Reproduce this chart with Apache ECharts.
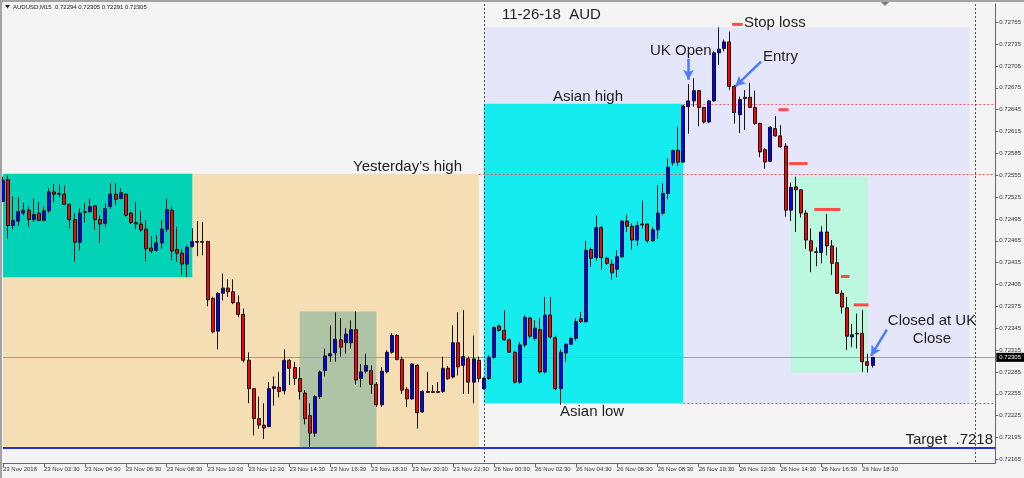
<!DOCTYPE html>
<html><head><meta charset="utf-8">
<script src="https://cdn.jsdelivr.net/npm/echarts@6/dist/echarts.min.js"></script>
<style>html,body{margin:0;padding:0;background:#f4f4f4;}#c{width:1024px;height:478px;}</style>
</head><body><div id="c"></div>
<script>
// ---- DATA ----
// Friday 23 Nov, M15 bars from 00:30 to 23:45  [open, close, low, high]
const fridayCandles = [
[0.72519,0.72548,0.72518,0.72553],[0.72549,0.72486,0.72468,0.72555],[0.72486,0.72493,0.72481,0.72526],[0.72492,0.72505,0.72486,0.72525],
[0.72503,0.72507,0.72500,0.72517],[0.72507,0.72494,0.72484,0.72512],[0.72494,0.72501,0.72491,0.72523],[0.72503,0.72493,0.72492,0.72518],
[0.72493,0.72506,0.72492,0.72512],[0.72506,0.72532,0.72503,0.72537],[0.72532,0.72529,0.72518,0.72543],[0.72530,0.72529,0.72525,0.72542],
[0.72529,0.72515,0.72514,0.72541],[0.72515,0.72494,0.72482,0.72516],[0.72494,0.72463,0.72436,0.72503],[0.72463,0.72503,0.72452,0.72509],
[0.72505,0.72504,0.72490,0.72517],[0.72505,0.72512,0.72503,0.72523],[0.72513,0.72494,0.72480,0.72514],[0.72494,0.72488,0.72462,0.72500],
[0.72489,0.72509,0.72484,0.72516],[0.72512,0.72529,0.72509,0.72544],[0.72529,0.72522,0.72514,0.72544],[0.72523,0.72531,0.72522,0.72537],
[0.72529,0.72500,0.72498,0.72530],[0.72503,0.72490,0.72488,0.72505],[0.72490,0.72488,0.72481,0.72518],[0.72488,0.72480,0.72477,0.72506],
[0.72481,0.72454,0.72437,0.72493],[0.72455,0.72451,0.72448,0.72471],[0.72452,0.72462,0.72450,0.72473],[0.72462,0.72481,0.72454,0.72493],
[0.72481,0.72508,0.72477,0.72523],[0.72507,0.72451,0.72438,0.72512],[0.72453,0.72448,0.72436,0.72484],[0.72448,0.72433,0.72418,0.72454],
[0.72433,0.72456,0.72415,0.72459],[0.72457,0.72464,0.72456,0.72482],[0.72464,0.72463,0.72444,0.72492],[0.72464,0.72463,0.72445,0.72491],
[0.72464,0.72384,0.72375,0.72465],[0.72386,0.72340,0.72338,0.72388],[0.72341,0.72393,0.72316,0.72394],[0.72393,0.72400,0.72383,0.72420],
[0.72400,0.72395,0.72388,0.72412],[0.72395,0.72380,0.72378,0.72412],[0.72380,0.72364,0.72360,0.72390],[0.72364,0.72301,0.72298,0.72372],
[0.72301,0.72262,0.72242,0.72312],[0.72262,0.72221,0.72198,0.72263],[0.72221,0.72212,0.72207,0.72251],[0.72212,0.72208,0.72193,0.72242],
[0.72210,0.72262,0.72209,0.72271],[0.72262,0.72265,0.72239,0.72279],[0.72264,0.72258,0.72250,0.72285],[0.72259,0.72301,0.72254,0.72316],
[0.72301,0.72290,0.72267,0.72302],[0.72291,0.72276,0.72267,0.72299],[0.72276,0.72258,0.72247,0.72292],[0.72256,0.72221,0.72213,0.72260],
[0.72225,0.72201,0.72182,0.72242],[0.72201,0.72251,0.72196,0.72253],[0.72251,0.72285,0.72248,0.72287],[0.72287,0.72307,0.72279,0.72317],
[0.72307,0.72310,0.72299,0.72349],[0.72311,0.72330,0.72299,0.72367],[0.72329,0.72319,0.72306,0.72359],[0.72325,0.72337,0.72310,0.72345],
[0.72325,0.72343,0.72317,0.72356],[0.72343,0.72274,0.72267,0.72368],[0.72276,0.72285,0.72264,0.72296],[0.72286,0.72294,0.72283,0.72310],
[0.72287,0.72268,0.72255,0.72294],[0.72268,0.72240,0.72237,0.72271],[0.72240,0.72286,0.72237,0.72292],[0.72285,0.72312,0.72283,0.72315],
[0.72312,0.72335,0.72310,0.72338],[0.72335,0.72302,0.72301,0.72337],[0.72302,0.72260,0.72255,0.72306],[0.72261,0.72248,0.72237,0.72264],
[0.72248,0.72296,0.72247,0.72297],[0.72294,0.72229,0.72207,0.72296],[0.72230,0.72258,0.72229,0.72260],[0.72258,0.72257,0.72256,0.72285],
[0.72258,0.72257,0.72256,0.72267],[0.72258,0.72257,0.72256,0.72271],[0.72258,0.72290,0.72256,0.72306],[0.72290,0.72276,0.72274,0.72293],
[0.72278,0.72325,0.72276,0.72349],[0.72325,0.72292,0.72280,0.72367],[0.72294,0.72306,0.72255,0.72370],[0.72303,0.72271,0.72255,0.72306],
[0.72271,0.72303,0.72242,0.72335],[0.72301,0.72276,0.72271,0.72306]
];
// Monday 26 Nov, M15 bars from 00:00 to 19:00  [open, close, low, high]
const mondayCandles = [
[0.72262,0.72276,0.72261,0.72278],[0.72276,0.72305,0.72274,0.72308],[0.72305,0.72346,0.72303,0.72348],[0.72348,0.72342,0.72340,0.72350],
[0.72342,0.72329,0.72328,0.72370],[0.72329,0.72312,0.72311,0.72331],[0.72312,0.72271,0.72269,0.72314],[0.72271,0.72322,0.72269,0.72326],
[0.72322,0.72360,0.72319,0.72363],[0.72359,0.72334,0.72331,0.72361],[0.72331,0.72345,0.72328,0.72356],[0.72343,0.72285,0.72283,0.72359],
[0.72285,0.72363,0.72283,0.72388],[0.72363,0.72333,0.72331,0.72388],[0.72332,0.72262,0.72260,0.72335],[0.72262,0.72312,0.72240,0.72316],
[0.72311,0.72323,0.72299,0.72324],[0.72323,0.72331,0.72322,0.72333],[0.72331,0.72354,0.72328,0.72359],[0.72358,0.72354,0.72352,0.72367],
[0.72354,0.72452,0.72352,0.72465],[0.72453,0.72441,0.72429,0.72456],[0.72442,0.72483,0.72438,0.72500],[0.72483,0.72442,0.72425,0.72486],
[0.72441,0.72434,0.72432,0.72443],[0.72433,0.72421,0.72412,0.72439],[0.72426,0.72443,0.72415,0.72452],[0.72443,0.72492,0.72442,0.72493],
[0.72492,0.72485,0.72477,0.72501],[0.72485,0.72466,0.72453,0.72489],[0.72466,0.72486,0.72458,0.72491],[0.72488,0.72487,0.72482,0.72520],
[0.72488,0.72465,0.72462,0.72489],[0.72465,0.72480,0.72464,0.72484],[0.72480,0.72503,0.72468,0.72541],[0.72503,0.72530,0.72500,0.72544],
[0.72530,0.72566,0.72522,0.72578],[0.72572,0.72589,0.72568,0.72590],[0.72589,0.72573,0.72568,0.72622],[0.72573,0.72650,0.72572,0.72651],
[0.72649,0.72657,0.72612,0.72680],[0.72657,0.72671,0.72649,0.72688],[0.72671,0.72648,0.72622,0.72672],[0.72648,0.72628,0.72626,0.72649],
[0.72628,0.72657,0.72627,0.72658],[0.72657,0.72723,0.72656,0.72725],[0.72723,0.72728,0.72706,0.72758],[0.72729,0.72738,0.72725,0.72741],
[0.72738,0.72677,0.72672,0.72752],[0.72677,0.72641,0.72626,0.72679],[0.72638,0.72659,0.72613,0.72663],[0.72660,0.72662,0.72617,0.72672],
[0.72662,0.72648,0.72647,0.72682],[0.72648,0.72626,0.72624,0.72671],[0.72626,0.72587,0.72580,0.72627],[0.72590,0.72573,0.72564,0.72592],
[0.72574,0.72621,0.72573,0.72622],[0.72619,0.72609,0.72608,0.72636],[0.72609,0.72594,0.72593,0.72624],[0.72595,0.72507,0.72498,0.72599],
[0.72507,0.72538,0.72492,0.72545],[0.72539,0.72535,0.72477,0.72553],[0.72535,0.72503,0.72497,0.72536],[0.72503,0.72466,0.72454,0.72507],
[0.72465,0.72451,0.72422,0.72482],[0.72450,0.72449,0.72430,0.72456],[0.72449,0.72477,0.72434,0.72485],[0.72477,0.72458,0.72445,0.72502],
[0.72458,0.72434,0.72418,0.72466],[0.72435,0.72393,0.72392,0.72456],[0.72393,0.72374,0.72365,0.72397],[0.72373,0.72334,0.72315,0.72388],
[0.72333,0.72336,0.72319,0.72351],[0.72338,0.72337,0.72317,0.72365],[0.72338,0.72299,0.72285,0.72370],[0.72299,0.72294,0.72284,0.72310],
[0.72294,0.72305,0.72291,0.72305]
];
const emptyBarsAhead = 24;          // chart shift: empty bar slots after the last candle
const xTickIndex = [0,8,16,24,32,40,48,56,64,72,80,88,96,104,112,120,128,136,144,152,160,168];
const xTickLabels = ["23 Nov 2018","23 Nov 02:30","23 Nov 04:30","23 Nov 06:30","23 Nov 08:30","23 Nov 10:30",
  "23 Nov 12:30","23 Nov 14:30","23 Nov 16:30","23 Nov 18:30","23 Nov 20:30","23 Nov 22:30",
  "26 Nov 00:30","26 Nov 02:30","26 Nov 04:30","26 Nov 06:30","26 Nov 08:30","26 Nov 10:30",
  "26 Nov 12:30","26 Nov 14:30","26 Nov 16:30","26 Nov 18:30"];
const yTicks = [0.72165,0.72195,0.72225,0.72255,0.72285,0.72315,0.72345,0.72375,0.72405,0.72435,0.72465,
  0.72495,0.72525,0.72555,0.72585,0.72615,0.72645,0.72675,0.72705,0.72735,0.72765];
const yMin = 0.72160, yMax = 0.72790;
// zones: [fromBar, toBar, topPrice, bottomPrice]
const zoneBounds = [
  [0, 93, 0.72557, 0.72181],
  [0, 37, 0.72557, 0.72415],
  [58, 73, 0.72368, 0.72181],
  [94, 189, 0.72758, 0.72242],
  [94, 133, 0.72653, 0.72242],
  [154, 169, 0.72553, 0.72284]
];
const bidPrice = 0.72305;
const targetPrice = 0.72181;
const yesterdayHigh = 0.72556;
const asianHigh = 0.72653;
const asianLow = 0.72242;
const daySeparators = [94, 190];
// stop levels: [fromBar, toBar, price]
const stopLevels = [
  [142.55, 144.62, 0.72762], [151.6, 153.6, 0.72645], [153.7, 157.3, 0.72571],
  [158.6, 163.7, 0.72508], [163.8, 165.5, 0.72416], [166.3, 169.2, 0.72377]
];
// arrows: [[fromBar, fromPrice], [toBar, toPrice]]
const arrowPoints = [
  [[134.0, 0.72715], [134.0, 0.72686]],
  [[148.2, 0.72711], [143.2, 0.72677]],
  [[172.8, 0.72343], [169.7, 0.72307]]
];

// ---- BUILD ----
const candles = fridayCandles.concat(mondayCandles);
const nSlots = candles.length + emptyBarsAhead;
const categories = [];
for (let j = 0; j < nSlots; j++) {
  let day, mins;
  if (j < fridayCandles.length) { day = 23; mins = 30 + 15 * j; }
  else { const m = 15 * (j - fridayCandles.length); day = 26 + Math.floor(m / 1440); mins = m % 1440; }
  categories.push(day + ' Nov ' + String(Math.floor(mins / 60)).padStart(2, '0') + ':' + String(mins % 60).padStart(2, '0'));
}
const zoneColors = ['#f5deb3', '#02d2b6', '#afc4a5', '#e6e6fa', '#14ecf0', '#bcf8e0'];
const lastSlot = nSlots - 1;
const FONT = '"Liberation Sans", Arial, sans-serif';
const redDot = { color: '#ff5a5a', width: 1, type: [2, 2] };

const levelLines = [
  [{ coord: [0, bidPrice], lineStyle: { color: '#a0a0a0', width: 1, type: 'solid' },
     label: { show: true, position: 'end', formatter: () => bidPrice.toFixed(5), backgroundColor: '#000', color: '#fff',
              fontSize: 6, fontFamily: FONT, padding: [2, 3, 1, 3], distance: 1 } },
   { coord: [lastSlot, bidPrice] }],
  [{ coord: [0, targetPrice], lineStyle: { color: '#2233dd', width: 2, type: 'solid' } }, { coord: [lastSlot, targetPrice] }],
  [{ coord: [93, yesterdayHigh], lineStyle: redDot }, { coord: [lastSlot, yesterdayHigh] }],
  [{ coord: [133, asianHigh], lineStyle: redDot }, { coord: [lastSlot, asianHigh] }],
  [{ coord: [133, asianLow], lineStyle: redDot }, { coord: [lastSlot, asianLow] }]
];
daySeparators.forEach(j => levelLines.push([
  { coord: [j, yMax], lineStyle: { color: '#555', width: 1, type: [2, 2] } }, { coord: [j, yMin] }]));

const arrowLines = arrowPoints.map(a => [
  { coord: a[0], symbol: 'none' },
  { coord: a[1], symbol: 'arrow', symbolSize: [8, 10] }]);

function txt(text, x, y, align, size) {
  return { type: 'text', silent: true, z: 100,
    style: { text: text, x: x, y: y, align: align || 'left', verticalAlign: 'middle',
             font: (size || 15) + 'px ' + FONT, fill: '#1e1e1e' } };
}

const chart = echarts.init(document.getElementById('c'), null, { renderer: 'canvas' });
chart.setOption({
  animation: false,
  backgroundColor: '#f4f4f4',
  grid: { left: 3, right: 28, top: 4, bottom: 15, show: false },
  xAxis: [{
    type: 'category', data: categories, boundaryGap: false,
    axisLine: { show: true, onZero: false, lineStyle: { color: '#666', width: 1 } },
    axisTick: { show: true, length: 4, interval: (i) => xTickIndex.includes(i), lineStyle: { color: '#666' } },
    axisLabel: { interval: (i) => xTickIndex.includes(i), align: 'left', margin: 3, fontSize: 6, fontFamily: FONT, color: '#333',
                 formatter: (v, i) => { const k = xTickIndex.indexOf(i); return k >= 0 ? xTickLabels[k] : ''; } },
    splitLine: { show: false }
  }, {
    type: 'value', min: 0, max: lastSlot, show: false
  }],
  yAxis: [{
    type: 'value', position: 'right', min: yMin, max: yMax, scale: true,
    axisLine: { show: true, onZero: false, lineStyle: { color: '#666', width: 1 } },
    axisTick: { show: true, length: 3, customValues: yTicks, lineStyle: { color: '#666' } },
    axisLabel: { customValues: yTicks, formatter: v => v.toFixed(5), fontSize: 6, fontFamily: FONT, color: '#333', margin: 4 },
    splitLine: { show: false }
  }],
  series: [{
    type: 'custom', name: 'zones', xAxisIndex: 1, yAxisIndex: 0, z: 1, silent: true,
    data: zoneBounds, encode: { x: [0, 1], y: [2, 3] },
    renderItem: (params, api) => {
      const p1 = api.coord([api.value(0), api.value(2)]);
      const p2 = api.coord([api.value(1), api.value(3)]);
      return { type: 'rect', shape: { x: p1[0], y: p1[1], width: p2[0] - p1[0], height: p2[1] - p1[1] },
               style: { fill: zoneColors[params.dataIndex] } };
    },
    markLine: { z: 3, silent: true, symbol: 'none', label: { show: false }, data: levelLines }
  }, {
    type: 'candlestick', name: 'AUDUSD,M15', xAxisIndex: 0, yAxisIndex: 0, z: 5, silent: true,
    data: candles, barWidth: 3.5,
    itemStyle: { color: '#0000ff', color0: '#ff0000', borderColor: '#151515', borderColor0: '#151515', borderWidth: 1 }
  }, {
    type: 'custom', name: 'stops', xAxisIndex: 1, yAxisIndex: 0, z: 8, silent: true,
    data: stopLevels, encode: { x: [0, 1], y: 2 },
    renderItem: (params, api) => {
      const a = api.coord([api.value(0), api.value(2)]);
      const b = api.coord([api.value(1), api.value(2)]);
      return { type: 'line', shape: { x1: a[0], y1: a[1], x2: b[0], y2: b[1] }, style: { stroke: '#ff4b4b', lineWidth: 3 } };
    },
    markLine: { z: 9, silent: true, label: { show: false }, lineStyle: { color: '#4b7bff', width: 2.5, type: 'solid' },
                emphasis: { disabled: true }, data: arrowLines }
  }],
  graphic: [
    { type: 'rect', shape: { x: 0, y: 0, width: 1024, height: 2 }, style: { fill: '#a3a3a3' }, silent: true, z: 100 },
    { type: 'rect', shape: { x: 0, y: 0, width: 2, height: 478 }, style: { fill: '#a3a3a3' }, silent: true, z: 100 },
    { type: 'polygon', shape: { points: [[5, 5], [10, 5], [7.5, 8.5]] }, style: { fill: '#222' }, silent: true, z: 100 },
    { type: 'polygon', shape: { points: [[881, 2], [889, 2], [885, 6]] }, style: { fill: '#777' }, silent: true, z: 100 },
    { type: 'text', silent: true, z: 100, style: { text: 'AUDUSD,M15  0.72294 0.72305 0.72291 0.72305', x: 13, y: 7,
      verticalAlign: 'middle', font: '6px ' + FONT, fill: '#222' } },
    txt('11-26-18  AUD', 502, 15),
    txt('Stop loss', 744, 23),
    txt('UK Open', 650, 51),
    txt('Entry', 763, 57),
    txt('Asian high', 553, 97),
    txt("Yesterday's high", 353, 167),
    txt('Asian low', 560, 412),
    txt('Closed at UK', 932, 321, 'center'),
    txt('Close', 932, 339, 'center'),
    txt('Target  .7218', 993, 440, 'right')
  ]
});
</script></body></html>
